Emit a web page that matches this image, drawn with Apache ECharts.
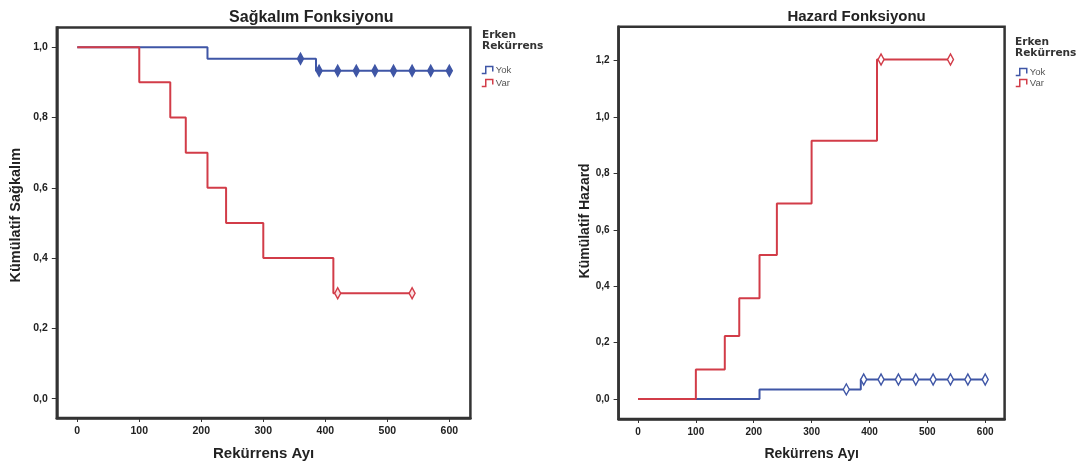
<!DOCTYPE html>
<html><head><meta charset="utf-8">
<script src="https://cdn.jsdelivr.net/npm/echarts@6/dist/echarts.min.js"></script>
<style>html,body{margin:0;padding:0;background:#fff}#c{width:1085px;height:466px}</style>
</head><body><div id="c"></div>
<script>
// ---- text ----
const chartTitles = ['Sağkalım Fonksiyonu', 'Hazard Fonksiyonu'];
const yAxisTitles = ['Kümülatif Sağkalım', 'Kümülatif Hazard'];
const xAxisTitle = 'Rekürrens Ayı';
const legendTitle = 'Erken\nRekürrens';
const groups = ['Yok', 'Var'];

// ---- tick labels ----
const xTicks = [0, 100, 200, 300, 400, 500, 600];
const survTicks = [0, 0.2, 0.4, 0.6, 0.8, 1.0];
const hazTicks = [0, 0.2, 0.4, 0.6, 0.8, 1.0, 1.2];

// ---- step curves (time, value after event) ----
const timesYok = [0, 210, 385, 600];
const survYok = [1.0, 0.967, 0.933, 0.933];
const hazYok = [0, 0.034, 0.069, 0.069];
const timesVar = [0, 100, 150, 175, 210, 240, 300, 413, 540];
const survVar = [1.0, 0.9, 0.8, 0.7, 0.6, 0.5, 0.4, 0.3, 0.3];
const hazVar = [0, 0.105, 0.223, 0.357, 0.511, 0.693, 0.916, 1.204, 1.204];

// ---- censored observations ----
const censorTimesYok = [360, 390, 420, 450, 480, 510, 540, 570, 600];
const censorSurvYok = [0.967, 0.933, 0.933, 0.933, 0.933, 0.933, 0.933, 0.933, 0.933];
const censorHazYok = [0.034, 0.069, 0.069, 0.069, 0.069, 0.069, 0.069, 0.069, 0.069];
const censorTimesVar = [420, 540];
const censorSurvVar = [0.3, 0.3];
const censorHazVar = [1.204, 1.204];

const BLUE = '#3f56a6', RED = '#d23c48', FRAME = '#333';
const zip = (xs, ys) => xs.map((x, i) => [x, ys[i]]);
const fmt = v => v.toFixed(1).replace('.', ',');
const stepIcon = 'path://M0,8 L4,8 L4,1 L11,1 L11,6';

function xAxisCfg(gi, min, max, fs, nameFs) {
  return {
    type: 'value', gridIndex: gi, min: min, max: max,
    name: xAxisTitle, nameLocation: 'middle', nameGap: 28,
    nameTextStyle: {fontFamily: 'Liberation Sans', fontWeight: 'bold', fontSize: nameFs, color: '#222'},
    axisLine: {show: true, onZero: false, lineStyle: {color: FRAME, width: 2.5}},
    axisTick: {show: true, length: 4, customValues: xTicks, lineStyle: {color: FRAME, width: 1}},
    axisLabel: {customValues: xTicks, margin: 8, fontFamily: 'Liberation Sans', fontWeight: 'bold', fontSize: fs, color: '#222'},
    splitLine: {show: false}
  };
}
function yAxisCfg(gi, min, max, ticks, name, gap, pad, fs, nameFs) {
  return {
    type: 'value', gridIndex: gi, min: min, max: max,
    name: name, nameLocation: 'middle', nameGap: gap,
    nameTextStyle: {fontFamily: 'Liberation Sans', fontWeight: 'bold', fontSize: nameFs, color: '#222', padding: pad},
    axisLine: {show: true, onZero: false, lineStyle: {color: FRAME, width: 2.5}},
    axisTick: {show: true, length: 5, customValues: ticks, lineStyle: {color: FRAME, width: 1}},
    axisLabel: {customValues: ticks, margin: 9, formatter: fmt, fontFamily: 'Liberation Sans', fontWeight: 'bold', fontSize: fs, color: '#222'},
    splitLine: {show: false}
  };
}
function stepSeries(name, gi, data, color) {
  return {type: 'line', name: name, xAxisIndex: gi, yAxisIndex: gi, data: data, step: 'end',
    showSymbol: false, symbol: 'none', lineStyle: {color: color, width: 2}, itemStyle: {color: color},
    animation: false, silent: true, z: 3};
}
function censorSeries(name, gi, data, color, fill) {
  return {type: 'scatter', name: name + ' (sansürlü)', xAxisIndex: gi, yAxisIndex: gi, data: data,
    symbol: 'diamond', symbolSize: [6, 11],
    itemStyle: {color: fill, borderColor: color, borderWidth: 1.5, opacity: 1},
    animation: false, silent: true, z: 4};
}
function legendCfg(left, top, gap) {
  return {
    left: left, top: top, orient: 'vertical', padding: 0, itemGap: gap,
    itemWidth: 13, itemHeight: 7, selectedMode: false,
    textStyle: {fontFamily: 'Liberation Sans', fontSize: 9.5, color: '#555', lineHeight: 10, padding: [0, 0, 0, -3]},
    data: [
      {name: groups[0], icon: stepIcon, itemStyle: {color: 'rgba(0,0,0,0)', borderColor: BLUE, borderWidth: 1.5}},
      {name: groups[1], icon: stepIcon, itemStyle: {color: 'rgba(0,0,0,0)', borderColor: RED, borderWidth: 1.5}}
    ]
  };
}

const chart = echarts.init(document.getElementById('c'), null, {renderer: 'canvas'});
chart.setOption({
  animation: false,
  backgroundColor: '#fff',
  grid: [
    {left: 56.8, top: 27.5, width: 413.6, height: 391.2, show: true, borderColor: FRAME, borderWidth: 2.5, backgroundColor: 'transparent'},
    {left: 618.6, top: 26.8, width: 386, height: 393, show: true, borderColor: FRAME, borderWidth: 2.5, backgroundColor: 'transparent'}
  ],
  xAxis: [xAxisCfg(0, -33, 634, 10.5, 15), xAxisCfg(1, -33.5, 633.5, 10, 14)],
  yAxis: [
    yAxisCfg(0, -0.055, 1.056, survTicks, yAxisTitles[0], 33, [0, 0, 0, 15], 10.5, 14.5),
    yAxisCfg(1, -0.071, 1.32, hazTicks, yAxisTitles[1], 25, [0, 0, 0, 4], 10, 14)
  ],
  legend: [legendCfg(481, 65, 3), legendCfg(1015, 67, 1)],
  graphic: [
    {type: 'text', x: 311.3, y: 10, style: {text: chartTitles[0], textAlign: 'center', textVerticalAlign: 'top', font: 'bold 16px "Liberation Sans"', fill: '#222'}},
    {type: 'text', x: 856.6, y: 9.7, style: {text: chartTitles[1], textAlign: 'center', textVerticalAlign: 'top', font: 'bold 15px "Liberation Sans"', fill: '#222'}},
    {type: 'text', x: 482, y: 30, style: {text: legendTitle, lineHeight: 11, textAlign: 'left', textVerticalAlign: 'top', font: 'bold 10.6px "DejaVu Sans"', fill: '#333'}},
    {type: 'text', x: 1015, y: 37, style: {text: legendTitle, lineHeight: 11, textAlign: 'left', textVerticalAlign: 'top', font: 'bold 10.6px "DejaVu Sans"', fill: '#333'}}
  ],
  series: [
    stepSeries(groups[0], 0, zip(timesYok, survYok), BLUE),
    stepSeries(groups[1], 0, zip(timesVar, survVar), RED),
    censorSeries(groups[0], 0, zip(censorTimesYok, censorSurvYok), BLUE, BLUE),
    censorSeries(groups[1], 0, zip(censorTimesVar, censorSurvVar), RED, '#fbe3e5'),
    stepSeries(groups[0], 1, zip(timesYok, hazYok), BLUE),
    stepSeries(groups[1], 1, zip(timesVar, hazVar), RED),
    censorSeries(groups[0], 1, zip(censorTimesYok, censorHazYok), BLUE, '#fff'),
    censorSeries(groups[1], 1, zip(censorTimesVar, censorHazVar), RED, '#fff')
  ]
});
</script></body></html>
